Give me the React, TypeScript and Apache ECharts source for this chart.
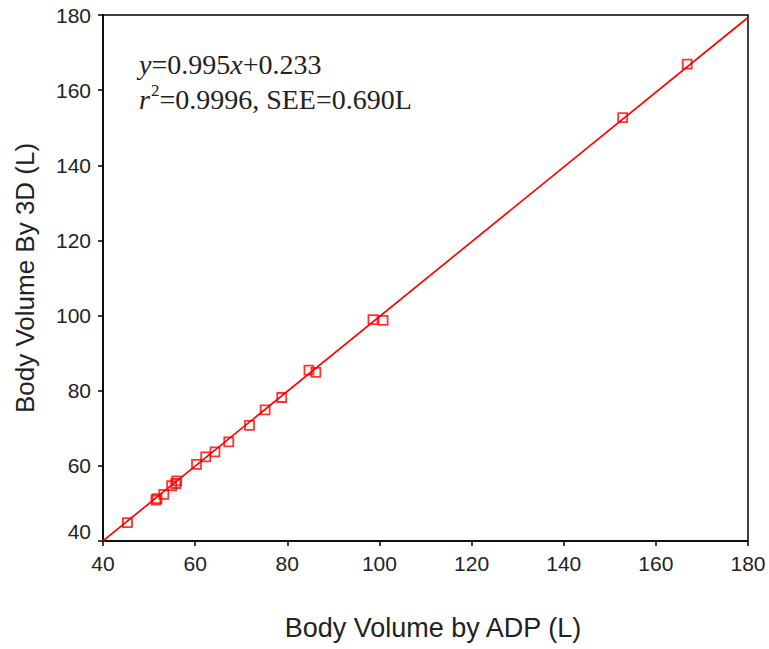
import React, { useEffect, useRef } from "react";
import * as echarts from "echarts";

const adpVolume = [45.3, 51.5, 51.7, 53.2, 54.9, 55.8, 56.0, 60.3, 62.3, 64.3, 67.3, 71.8, 75.2, 78.8, 84.7, 86.2, 98.6, 100.8, 152.8, 166.8];
const scanVolume = [44.9, 50.9, 51.3, 52.4, 54.7, 55.3, 56.0, 60.4, 62.4, 63.7, 66.4, 70.8, 74.9, 78.2, 85.5, 84.9, 98.9, 98.7, 152.7, 166.9];
const fitX = [40, 180];
const fitY = [40.03, 179.33];
const axisTicks = [40, 60, 80, 100, 120, 140, 160, 180];

export default function App() {
  const ref = useRef<HTMLDivElement>(null);
  useEffect(() => {
    if (!ref.current) return;
    const chart = echarts.init(ref.current, null, { renderer: "svg" });
    const font = "'Liberation Sans', Arial, sans-serif";
    const serif = "'Liberation Serif', 'Times New Roman', serif";
    chart.setOption({
      animation: false,
      backgroundColor: "#fff",
      grid: {
        left: 103,
        right: 21,
        top: 15,
        bottom: 108,
        show: true,
        borderColor: "#000",
        borderWidth: 1.5,
        backgroundColor: "transparent",
      },
      xAxis: {
        type: "value",
        min: axisTicks[0],
        max: axisTicks[axisTicks.length - 1],
        interval: 20,
        name: "Body Volume by ADP (L)",
        nameLocation: "middle",
        nameGap: 73,
        nameTextStyle: { fontFamily: font, fontSize: 27, color: "#222", padding: [0, 0, 0, 15] },
        axisLine: { lineStyle: { color: "#000", width: 1.5 } },
        axisTick: { show: true, inside: false, length: 5, lineStyle: { color: "#000", width: 1.5 } },
        axisLabel: { fontFamily: font, fontSize: 21, color: "#222", margin: 12 },
        splitLine: { show: false },
      },
      yAxis: {
        type: "value",
        min: axisTicks[0],
        max: axisTicks[axisTicks.length - 1],
        interval: 20,
        name: "Body Volume By 3D (L)",
        nameLocation: "middle",
        nameGap: 65,
        nameTextStyle: { fontFamily: font, fontSize: 26, color: "#222" },
        axisLine: { lineStyle: { color: "#000", width: 1.5 } },
        axisTick: { show: true, inside: false, length: 5, lineStyle: { color: "#000", width: 1.5 } },
        axisLabel: {
          fontFamily: font,
          fontSize: 21,
          color: "#222",
          margin: 12,
          formatter: (v: number) => (v === axisTicks[0] ? "{lo|" + v + "}" : String(v)),
          rich: {
            lo: { fontFamily: font, fontSize: 21, color: "#222", padding: [0, 0, 20, 0] },
          },
        },
        splitLine: { show: false },
      },
      series: [
        {
          type: "line",
          data: fitX.map((x, i) => [x, fitY[i]]),
          showSymbol: false,
          symbol: "none",
          lineStyle: { color: "#ff0000", width: 1.7 },
          z: 2,
        },
        {
          type: "scatter",
          data: adpVolume.map((x, i) => [x, scanVolume[i]]),
          symbol: "rect",
          symbolSize: 9,
          itemStyle: { color: "rgba(255,255,255,0)", borderColor: "#ff0000", borderWidth: 1.8 },
          z: 3,
        },
      ],
      graphic: [
        {
          type: "text",
          left: 139,
          top: 47,
          style: {
            text: "{i|y}{n|=0.995}{i|x}{n|+0.233}\n{i|r}{s|2}{n|=0.9996, SEE=0.690L}",
            fontFamily: serif,
            fontSize: 28,
            lineHeight: 35,
            fill: "#222",
            rich: {
              i: { fontFamily: serif, fontSize: 28, fontStyle: "italic", fill: "#222", lineHeight: 35 },
              n: { fontFamily: serif, fontSize: 28, fill: "#222", lineHeight: 35 },
              s: { fontFamily: serif, fontSize: 17, fill: "#222", padding: [0, 0, 18, 1], lineHeight: 35 },
            },
          },
        },
      ],
    });
    return () => chart.dispose();
  }, []);
  return (
    <div
      ref={ref}
      style={{ position: "absolute", left: 0, top: 0, width: 769, height: 649 }}
    />
  );
}
